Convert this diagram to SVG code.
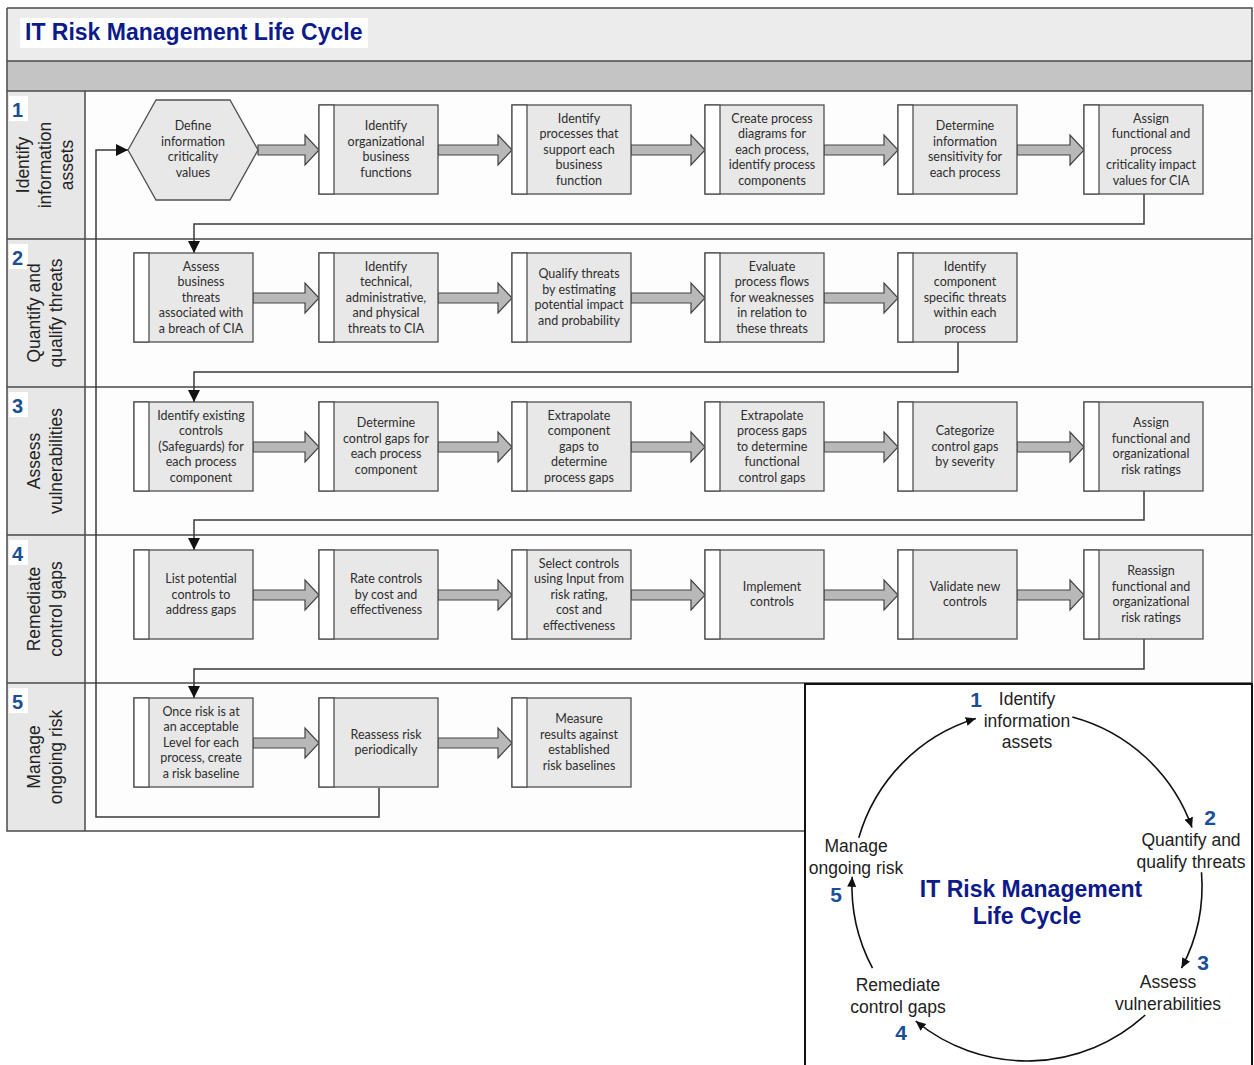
<svg xmlns="http://www.w3.org/2000/svg" width="1254" height="1065" viewBox="0 0 1254 1065">
  <style>
    .frame { fill: none; stroke: #4a4a4a; stroke-width: 1.5; }
    .lanebg { fill: #e7e7e7; }
    .boxg { fill: #e8e8e8; stroke: #505050; stroke-width: 1.3; }
    .strip { fill: #ffffff; stroke: #505050; stroke-width: 1.3; }
    .bt { font-family: Lato, "Open Sans", sans-serif; font-size: 12.5px; fill: #2e2e2e; text-anchor: middle; }
    .blk { fill: #b8b8b8; stroke: #444; stroke-width: 1.2; stroke-linejoin: miter; }
    .con { fill: none; stroke: #3a3a3a; stroke-width: 1.5; }
    .lane { font-family: "Liberation Sans", Arial, sans-serif; font-size: 17.5px; fill: #222; text-anchor: middle; }
    .num { font-family: "Liberation Sans", Arial, sans-serif; font-size: 20px; font-weight: bold; fill: #1a4f96; }
    .cyc { font-family: "Liberation Sans", Arial, sans-serif; font-size: 17.5px; fill: #222; text-anchor: middle; }
    .cnum { font-family: "Liberation Sans", Arial, sans-serif; font-size: 21px; font-weight: bold; fill: #1a4f96; text-anchor: middle; }
    .ttl { font-family: "Liberation Sans", Arial, sans-serif; font-size: 23px; font-weight: bold; fill: #0c1a8a; }
    .arc { fill: none; stroke: #111; stroke-width: 1.6; }
  </style>
  <defs>
    <marker id="tip" viewBox="0 0 12 12" refX="12" refY="6" markerWidth="12" markerHeight="12" markerUnits="userSpaceOnUse" orient="auto">
      <path d="M0,0 L12,6 L0,12 Z" fill="#111"/>
    </marker>
    <marker id="tipS" viewBox="0 0 10 10" refX="10" refY="5" markerWidth="10" markerHeight="10" markerUnits="userSpaceOnUse" orient="auto">
      <path d="M0,0.5 L10,5 L0,9.5 Z" fill="#111"/>
    </marker>
  </defs>

  <rect width="1254" height="1065" fill="#ffffff"/>

  <!-- header bands -->
  <g id="header">
    <rect x="7" y="8" width="1245" height="53" fill="#ececec"/>
    <rect x="7" y="61" width="1245" height="30" fill="#c4c4c4"/>
    <rect x="20" y="18" width="348" height="30" fill="#ffffff"/>
    <text class="ttl" x="25" y="40">IT Risk Management Life Cycle</text>
  </g>

  <!-- swim lanes -->
  <g id="lanes">
    <rect x="85" y="91" width="1167" height="740" fill="#fdfdfd"/>
    <rect class="lanebg" x="7" y="91" width="78" height="740"/>
    <path class="frame" d="M7,8 H1252 V684 M7,8 V831 H805 M7,61 H1252 M7,91 H1252 M7,239 H1252 M7,387 H1252 M7,535 H1252 M7,683 H1252 M85,91 V831"/>

    <rect x="9" y="96" width="19" height="25" fill="#fff"/>
    <text class="num" x="12" y="117">1</text>
    <text class="lane" transform="translate(29,165) rotate(-90)"><tspan x="0" y="0">Identify</tspan><tspan x="0" dy="22">information</tspan><tspan x="0" dy="22">assets</tspan></text>

    <rect x="9" y="244" width="19" height="25" fill="#fff"/>
    <text class="num" x="12" y="265">2</text>
    <text class="lane" transform="translate(40,313) rotate(-90)"><tspan x="0" y="0">Quantify and</tspan><tspan x="0" dy="22">qualify threats</tspan></text>

    <rect x="9" y="392" width="19" height="25" fill="#fff"/>
    <text class="num" x="12" y="413">3</text>
    <text class="lane" transform="translate(40,461) rotate(-90)"><tspan x="0" y="0">Assess</tspan><tspan x="0" dy="22">vulnerabilities</tspan></text>

    <rect x="9" y="540" width="19" height="25" fill="#fff"/>
    <text class="num" x="12" y="561">4</text>
    <text class="lane" transform="translate(40,609) rotate(-90)"><tspan x="0" y="0">Remediate</tspan><tspan x="0" dy="22">control gaps</tspan></text>

    <rect x="9" y="688" width="19" height="25" fill="#fff"/>
    <text class="num" x="12" y="709">5</text>
    <text class="lane" transform="translate(40,757) rotate(-90)"><tspan x="0" y="0">Manage</tspan><tspan x="0" dy="22">ongoing risk</tspan></text>
  </g>

  <!-- connectors -->
  <g id="connectors">
    <path class="con" d="M1144,194 V224 H194 V253" marker-end="url(#tip)"/>
    <path class="con" d="M958,342 V372 H194 V402" marker-end="url(#tip)"/>
    <path class="con" d="M1144,491 V520 H194 V550" marker-end="url(#tip)"/>
    <path class="con" d="M1144,639 V669 H194 V698" marker-end="url(#tip)"/>
    <path class="con" d="M379,788 V817 H96 V150 H128" marker-end="url(#tip)"/>

    <!-- block arrows, row 1 -->
    <path class="blk" d="M258,145 H305 V135 L319,150 L305,165 V155 H258 Z"/>
    <path class="blk" d="M438,145 H498 V135 L512,150 L498,165 V155 H438 Z"/>
    <path class="blk" d="M631,145 H691 V135 L705,150 L691,165 V155 H631 Z"/>
    <path class="blk" d="M824,145 H884 V135 L898,150 L884,165 V155 H824 Z"/>
    <path class="blk" d="M1017,145 H1070 V135 L1084,150 L1070,165 V155 H1017 Z"/>
    <!-- row 2 -->
    <path class="blk" d="M253,293 H305 V283 L319,298 L305,313 V303 H253 Z"/>
    <path class="blk" d="M438,293 H498 V283 L512,298 L498,313 V303 H438 Z"/>
    <path class="blk" d="M631,293 H691 V283 L705,298 L691,313 V303 H631 Z"/>
    <path class="blk" d="M824,293 H884 V283 L898,298 L884,313 V303 H824 Z"/>
    <!-- row 3 -->
    <path class="blk" d="M253,442 H305 V432 L319,447 L305,462 V452 H253 Z"/>
    <path class="blk" d="M438,442 H498 V432 L512,447 L498,462 V452 H438 Z"/>
    <path class="blk" d="M631,442 H691 V432 L705,447 L691,462 V452 H631 Z"/>
    <path class="blk" d="M824,442 H884 V432 L898,447 L884,462 V452 H824 Z"/>
    <path class="blk" d="M1017,442 H1070 V432 L1084,447 L1070,462 V452 H1017 Z"/>
    <!-- row 4 -->
    <path class="blk" d="M253,590 H305 V580 L319,595 L305,610 V600 H253 Z"/>
    <path class="blk" d="M438,590 H498 V580 L512,595 L498,610 V600 H438 Z"/>
    <path class="blk" d="M631,590 H691 V580 L705,595 L691,610 V600 H631 Z"/>
    <path class="blk" d="M824,590 H884 V580 L898,595 L884,610 V600 H824 Z"/>
    <path class="blk" d="M1017,590 H1070 V580 L1084,595 L1070,610 V600 H1017 Z"/>
    <!-- row 5 -->
    <path class="blk" d="M253,738 H305 V728 L319,743 L305,758 V748 H253 Z"/>
    <path class="blk" d="M438,738 H498 V728 L512,743 L498,758 V748 H438 Z"/>
  </g>

  <!-- row 1 -->
  <g id="n1-1">
    <polygon class="boxg" points="128,150 156,100 230,100 258,150 230,200 156,200"/>
    <text class="bt" x="193" y="130.3"><tspan x="193">Define</tspan><tspan x="193" dy="15.5">information</tspan><tspan x="193" dy="15.5">criticality</tspan><tspan x="193" dy="15.5">values</tspan></text>
  </g>
  <g id="n1-2">
    <rect class="boxg" x="319" y="105" width="119" height="89"/><rect class="strip" x="319" y="105" width="15" height="89"/>
    <text class="bt" y="130.3"><tspan x="386">Identify</tspan><tspan x="386" dy="15.5">organizational</tspan><tspan x="386" dy="15.5">business</tspan><tspan x="386" dy="15.5">functions</tspan></text>
  </g>
  <g id="n1-3">
    <rect class="boxg" x="512" y="105" width="119" height="89"/><rect class="strip" x="512" y="105" width="15" height="89"/>
    <text class="bt" y="122.5"><tspan x="579">Identify</tspan><tspan x="579" dy="15.5">processes that</tspan><tspan x="579" dy="15.5">support each</tspan><tspan x="579" dy="15.5">business</tspan><tspan x="579" dy="15.5">function</tspan></text>
  </g>
  <g id="n1-4">
    <rect class="boxg" x="705" y="105" width="119" height="89"/><rect class="strip" x="705" y="105" width="15" height="89"/>
    <text class="bt" y="122.5"><tspan x="772">Create process</tspan><tspan x="772" dy="15.5">diagrams for</tspan><tspan x="772" dy="15.5">each process,</tspan><tspan x="772" dy="15.5">identify process</tspan><tspan x="772" dy="15.5">components</tspan></text>
  </g>
  <g id="n1-5">
    <rect class="boxg" x="898" y="105" width="119" height="89"/><rect class="strip" x="898" y="105" width="15" height="89"/>
    <text class="bt" y="130.3"><tspan x="965">Determine</tspan><tspan x="965" dy="15.5">information</tspan><tspan x="965" dy="15.5">sensitivity for</tspan><tspan x="965" dy="15.5">each process</tspan></text>
  </g>
  <g id="n1-6">
    <rect class="boxg" x="1084" y="105" width="119" height="89"/><rect class="strip" x="1084" y="105" width="15" height="89"/>
    <text class="bt" y="122.5"><tspan x="1151">Assign</tspan><tspan x="1151" dy="15.5">functional and</tspan><tspan x="1151" dy="15.5">process</tspan><tspan x="1151" dy="15.5">criticality impact</tspan><tspan x="1151" dy="15.5">values for CIA</tspan></text>
  </g>

  <!-- row 2 -->
  <g id="n2-1">
    <rect class="boxg" x="134" y="253" width="119" height="89"/><rect class="strip" x="134" y="253" width="15" height="89"/>
    <text class="bt" y="270.5"><tspan x="201">Assess</tspan><tspan x="201" dy="15.5">business</tspan><tspan x="201" dy="15.5">threats</tspan><tspan x="201" dy="15.5">associated with</tspan><tspan x="201" dy="15.5">a breach of CIA</tspan></text>
  </g>
  <g id="n2-2">
    <rect class="boxg" x="319" y="253" width="119" height="89"/><rect class="strip" x="319" y="253" width="15" height="89"/>
    <text class="bt" y="270.5"><tspan x="386">Identify</tspan><tspan x="386" dy="15.5">technical,</tspan><tspan x="386" dy="15.5">administrative,</tspan><tspan x="386" dy="15.5">and physical</tspan><tspan x="386" dy="15.5">threats to CIA</tspan></text>
  </g>
  <g id="n2-3">
    <rect class="boxg" x="512" y="253" width="119" height="89"/><rect class="strip" x="512" y="253" width="15" height="89"/>
    <text class="bt" y="278.3"><tspan x="579">Qualify threats</tspan><tspan x="579" dy="15.5">by estimating</tspan><tspan x="579" dy="15.5">potential impact</tspan><tspan x="579" dy="15.5">and probability</tspan></text>
  </g>
  <g id="n2-4">
    <rect class="boxg" x="705" y="253" width="119" height="89"/><rect class="strip" x="705" y="253" width="15" height="89"/>
    <text class="bt" y="270.5"><tspan x="772">Evaluate</tspan><tspan x="772" dy="15.5">process flows</tspan><tspan x="772" dy="15.5">for weaknesses</tspan><tspan x="772" dy="15.5">in relation to</tspan><tspan x="772" dy="15.5">these threats</tspan></text>
  </g>
  <g id="n2-5">
    <rect class="boxg" x="898" y="253" width="119" height="89"/><rect class="strip" x="898" y="253" width="15" height="89"/>
    <text class="bt" y="270.5"><tspan x="965">Identify</tspan><tspan x="965" dy="15.5">component</tspan><tspan x="965" dy="15.5">specific threats</tspan><tspan x="965" dy="15.5">within each</tspan><tspan x="965" dy="15.5">process</tspan></text>
  </g>

  <!-- row 3 -->
  <g id="n3-1">
    <rect class="boxg" x="134" y="402" width="119" height="89"/><rect class="strip" x="134" y="402" width="15" height="89"/>
    <text class="bt" y="419.5"><tspan x="201">Identify existing</tspan><tspan x="201" dy="15.5">controls</tspan><tspan x="201" dy="15.5">(Safeguards) for</tspan><tspan x="201" dy="15.5">each process</tspan><tspan x="201" dy="15.5">component</tspan></text>
  </g>
  <g id="n3-2">
    <rect class="boxg" x="319" y="402" width="119" height="89"/><rect class="strip" x="319" y="402" width="15" height="89"/>
    <text class="bt" y="427.3"><tspan x="386">Determine</tspan><tspan x="386" dy="15.5">control gaps for</tspan><tspan x="386" dy="15.5">each process</tspan><tspan x="386" dy="15.5">component</tspan></text>
  </g>
  <g id="n3-3">
    <rect class="boxg" x="512" y="402" width="119" height="89"/><rect class="strip" x="512" y="402" width="15" height="89"/>
    <text class="bt" y="419.5"><tspan x="579">Extrapolate</tspan><tspan x="579" dy="15.5">component</tspan><tspan x="579" dy="15.5">gaps to</tspan><tspan x="579" dy="15.5">determine</tspan><tspan x="579" dy="15.5">process gaps</tspan></text>
  </g>
  <g id="n3-4">
    <rect class="boxg" x="705" y="402" width="119" height="89"/><rect class="strip" x="705" y="402" width="15" height="89"/>
    <text class="bt" y="419.5"><tspan x="772">Extrapolate</tspan><tspan x="772" dy="15.5">process gaps</tspan><tspan x="772" dy="15.5">to determine</tspan><tspan x="772" dy="15.5">functional</tspan><tspan x="772" dy="15.5">control gaps</tspan></text>
  </g>
  <g id="n3-5">
    <rect class="boxg" x="898" y="402" width="119" height="89"/><rect class="strip" x="898" y="402" width="15" height="89"/>
    <text class="bt" y="435"><tspan x="965">Categorize</tspan><tspan x="965" dy="15.5">control gaps</tspan><tspan x="965" dy="15.5">by severity</tspan></text>
  </g>
  <g id="n3-6">
    <rect class="boxg" x="1084" y="402" width="119" height="89"/><rect class="strip" x="1084" y="402" width="15" height="89"/>
    <text class="bt" y="427.3"><tspan x="1151">Assign</tspan><tspan x="1151" dy="15.5">functional and</tspan><tspan x="1151" dy="15.5">organizational</tspan><tspan x="1151" dy="15.5">risk ratings</tspan></text>
  </g>

  <!-- row 4 -->
  <g id="n4-1">
    <rect class="boxg" x="134" y="550" width="119" height="89"/><rect class="strip" x="134" y="550" width="15" height="89"/>
    <text class="bt" y="583"><tspan x="201">List potential</tspan><tspan x="201" dy="15.5">controls to</tspan><tspan x="201" dy="15.5">address gaps</tspan></text>
  </g>
  <g id="n4-2">
    <rect class="boxg" x="319" y="550" width="119" height="89"/><rect class="strip" x="319" y="550" width="15" height="89"/>
    <text class="bt" y="583"><tspan x="386">Rate controls</tspan><tspan x="386" dy="15.5">by cost and</tspan><tspan x="386" dy="15.5">effectiveness</tspan></text>
  </g>
  <g id="n4-3">
    <rect class="boxg" x="512" y="550" width="119" height="89"/><rect class="strip" x="512" y="550" width="15" height="89"/>
    <text class="bt" y="567.5"><tspan x="579">Select controls</tspan><tspan x="579" dy="15.5">using Input from</tspan><tspan x="579" dy="15.5">risk rating,</tspan><tspan x="579" dy="15.5">cost and</tspan><tspan x="579" dy="15.5">effectiveness</tspan></text>
  </g>
  <g id="n4-4">
    <rect class="boxg" x="705" y="550" width="119" height="89"/><rect class="strip" x="705" y="550" width="15" height="89"/>
    <text class="bt" y="590.8"><tspan x="772">Implement</tspan><tspan x="772" dy="15.5">controls</tspan></text>
  </g>
  <g id="n4-5">
    <rect class="boxg" x="898" y="550" width="119" height="89"/><rect class="strip" x="898" y="550" width="15" height="89"/>
    <text class="bt" y="590.8"><tspan x="965">Validate new</tspan><tspan x="965" dy="15.5">controls</tspan></text>
  </g>
  <g id="n4-6">
    <rect class="boxg" x="1084" y="550" width="119" height="89"/><rect class="strip" x="1084" y="550" width="15" height="89"/>
    <text class="bt" y="575.3"><tspan x="1151">Reassign</tspan><tspan x="1151" dy="15.5">functional and</tspan><tspan x="1151" dy="15.5">organizational</tspan><tspan x="1151" dy="15.5">risk ratings</tspan></text>
  </g>

  <!-- row 5 -->
  <g id="n5-1">
    <rect class="boxg" x="134" y="698" width="119" height="89"/><rect class="strip" x="134" y="698" width="15" height="89"/>
    <text class="bt" y="715.5"><tspan x="201">Once risk is at</tspan><tspan x="201" dy="15.5">an acceptable</tspan><tspan x="201" dy="15.5">Level for each</tspan><tspan x="201" dy="15.5">process, create</tspan><tspan x="201" dy="15.5">a risk baseline</tspan></text>
  </g>
  <g id="n5-2">
    <rect class="boxg" x="319" y="698" width="119" height="89"/><rect class="strip" x="319" y="698" width="15" height="89"/>
    <text class="bt" y="738.8"><tspan x="386">Reassess risk</tspan><tspan x="386" dy="15.5">periodically</tspan></text>
  </g>
  <g id="n5-3">
    <rect class="boxg" x="512" y="698" width="119" height="89"/><rect class="strip" x="512" y="698" width="15" height="89"/>
    <text class="bt" y="723.3"><tspan x="579">Measure</tspan><tspan x="579" dy="15.5">results against</tspan><tspan x="579" dy="15.5">established</tspan><tspan x="579" dy="15.5">risk baselines</tspan></text>
  </g>

  <!-- life cycle summary panel -->
  <g id="cycle">
    <rect x="805" y="684" width="447" height="390" fill="#ffffff" stroke="#111" stroke-width="2"/>
    <path class="arc" d="M858.8,837.8 A175,175 0 0 1 975.8,718.6" marker-end="url(#tipS)"/>
    <path class="arc" d="M1072.3,717 A175,175 0 0 1 1192,827.6" marker-end="url(#tipS)"/>
    <path class="arc" d="M1201.5,872.3 A175,175 0 0 1 1181.5,968.2" marker-end="url(#tipS)"/>
    <path class="arc" d="M1145.2,1015 A175,175 0 0 1 915.7,1021" marker-end="url(#tipS)"/>
    <path class="arc" d="M872.5,968.2 A175,175 0 0 1 852.2,876.8" marker-end="url(#tipS)"/>

    <text class="cnum" x="976" y="707">1</text>
    <text class="cyc" y="705"><tspan x="1027">Identify</tspan><tspan x="1027" dy="21.5">information</tspan><tspan x="1027" dy="21.5">assets</tspan></text>

    <text class="cnum" x="1210" y="825">2</text>
    <text class="cyc" y="846"><tspan x="1191">Quantify and</tspan><tspan x="1191" dy="21.5">qualify threats</tspan></text>

    <text class="cnum" x="1203" y="970">3</text>
    <text class="cyc" y="988"><tspan x="1168">Assess</tspan><tspan x="1168" dy="21.5">vulnerabilities</tspan></text>

    <text class="cyc" y="991"><tspan x="898">Remediate</tspan><tspan x="898" dy="21.5">control gaps</tspan></text>
    <text class="cnum" x="901" y="1040">4</text>

    <text class="cyc" y="852"><tspan x="856">Manage</tspan><tspan x="856" dy="21.5">ongoing risk</tspan></text>
    <text class="cnum" x="836" y="902">5</text>

    <text class="ttl" text-anchor="middle" y="897"><tspan x="1031">IT Risk Management</tspan><tspan x="1027" dy="27">Life Cycle</tspan></text>
  </g>
</svg>
